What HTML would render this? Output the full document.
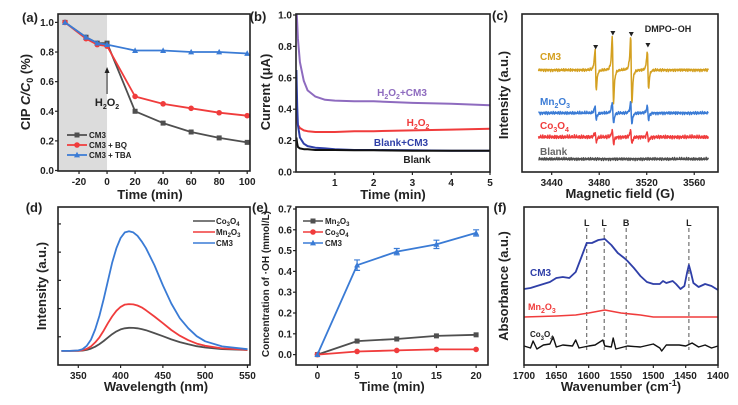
<!DOCTYPE html>
<html><head><meta charset="utf-8"><style>
body{margin:0;background:#fff}
svg{display:block;font-family:"Liberation Sans",sans-serif;font-weight:bold}
</style></head><body>
<svg id="fig" width="738" height="405" viewBox="0 0 738 405" xmlns="http://www.w3.org/2000/svg"></svg>
<script>
// ---- panel a data
const aTime=[-30,-15,-7,0,20,40,60,80,100];
const aCM3=[1.0,0.90,0.86,0.86,0.40,0.32,0.26,0.22,0.19];
const aBQ=[1.0,0.89,0.85,0.84,0.50,0.45,0.42,0.39,0.37];
const aTBA=[1.0,0.90,0.86,0.85,0.81,0.81,0.80,0.80,0.79];
const aXTicks=[-20,0,20,40,60,80,100];
const aYTicks=[0.0,0.2,0.4,0.6,0.8,1.0];
// ---- panel b data
const bTime=[0.01,0.03,0.05,0.1,0.2,0.3,0.5,0.75,1,1.5,2,3,4,5];
const bH2O2CM3=[1.05,0.95,0.85,0.70,0.58,0.52,0.48,0.46,0.455,0.45,0.45,0.44,0.435,0.425];
const bH2O2=[0.40,0.33,0.30,0.28,0.265,0.26,0.255,0.255,0.255,0.26,0.26,0.265,0.27,0.275];
const bBlankCM3=[0.65,0.42,0.30,0.22,0.18,0.165,0.155,0.15,0.145,0.14,0.14,0.138,0.135,0.135];
const bBlank=[0.22,0.18,0.16,0.15,0.145,0.145,0.14,0.14,0.14,0.138,0.138,0.135,0.135,0.135];
const bXTicks=[1,2,3,4,5];
const bYTicks=[0.0,0.2,0.4,0.6,0.8,1.0];
// ---- panel c data
const cPeakPos=[3477,3491.5,3507,3521];
const cAmpCM3=[20,34,34,19];
const cAmpMn=[7,11,11,7];
const cAmpCo=[5,7,7,5];
const cAmpBlank=[0,0,0,0];
const cOffsets=[102,59,35,13];
const cXTicks=[3440,3480,3520,3560];
// ---- panel d data
const dWave=[330,340,350,355,360,365,370,375,380,385,390,395,400,405,410,415,420,425,430,440,450,460,470,480,490,500,520,550];
const dCM3=[0,0,0.004,0.015,0.045,0.1,0.19,0.31,0.46,0.62,0.78,0.91,1.0,1.05,1.06,1.05,1.02,0.97,0.91,0.76,0.58,0.42,0.29,0.2,0.13,0.085,0.04,0.015];
const dMn=[0,0,0.002,0.006,0.018,0.04,0.075,0.12,0.18,0.245,0.305,0.355,0.39,0.41,0.415,0.412,0.402,0.385,0.36,0.305,0.245,0.185,0.135,0.095,0.065,0.045,0.022,0.01];
const dCo=[0,0,0.001,0.003,0.009,0.02,0.037,0.06,0.088,0.118,0.148,0.173,0.19,0.2,0.205,0.204,0.2,0.193,0.183,0.158,0.13,0.102,0.078,0.058,0.042,0.03,0.016,0.008];
const dXTicks=[350,400,450,500,550];
// ---- panel e data
const eTime=[0,5,10,15,20];
const eMn=[0,0.065,0.075,0.09,0.095];
const eCo=[0,0.015,0.02,0.025,0.025];
const eCM3=[0,0.43,0.495,0.53,0.585];
const eErr=[0,0.025,0.015,0.02,0.015];
const eXTicks=[0,5,10,15,20];
const eYTicks=[0.0,0.1,0.2,0.3,0.4,0.5,0.6,0.7];
// ---- panel f data
const fWaveCM3=[1700,1690,1680,1670,1660,1650,1640,1630,1620,1610,1603,1595,1585,1575,1565,1555,1545,1540,1530,1520,1510,1500,1490,1485,1480,1470,1465,1458,1452,1448,1445,1442,1438,1430,1420,1410,1400];
const fCM3=[76,77,79,81,83,87,88,87,93,110,122,122,125,126,120,112,107,104,97,89,83,81,81,84,82,84,81,76,79,92,100,93,82,78,81,79,75];
const fWaveMn=[1700,1650,1620,1600,1575,1550,1520,1500,1450,1400];
const fMn=[48,49,50,52,55,52,50,48,48,48];
const fWaveCo=[1700,1690,1686,1680,1670,1660,1655,1650,1640,1625,1620,1615,1600,1590,1578,1575,1565,1562,1558,1540,1520,1500,1490,1487,1480,1460,1450,1440,1430,1420,1410,1400];
const fCo=[19,17,24,16,20,21,28,18,20,19,25,17,19,20,25,19,18,27,16,19,18,21,17,14,20,20,19,22,18,20,17,19];
const fMarks=[1603,1576,1542,1445];
const fMarkLabels=['L','L','B','L'];
const fXTicks=[1700,1650,1600,1550,1500,1450,1400];

const NS='http://www.w3.org/2000/svg';
const svg=document.getElementById('fig');
function mk(tag,attrs,name,parent){
  const el=document.createElementNS(NS,tag);
  for(const k in attrs) el.setAttribute(k,attrs[k]);
  
  
  (parent||svg).appendChild(el);
  return el;
}
function txt(s,x,y,size,name,opts){
  opts=opts||{};
  const t=mk('text',{x:x,y:y,'font-size':size,fill:opts.fill||'#222','text-anchor':opts.anchor||'middle'},name);
  if(opts.rot) t.setAttribute('transform','rotate(-90 '+x+' '+y+')');
  t.innerHTML=s;
  return t;
}
function scale(d0,d1,r0,r1){return v=>r0+(v-d0)/(d1-d0)*(r1-r0);}
function path(xs,ys,sx,sy,color,w,name){
  let d='';xs.forEach((x,i)=>{d+=(i?'L':'M')+sx(x).toFixed(1)+' '+sy(ys[i]).toFixed(1);});
  return mk('path',{d:d,fill:'none',stroke:color,'stroke-width':w,'stroke-linejoin':'round'},name);
}
function box(x0,y0,x1,y1,name){mk('rect',{x:x0,y:y0,width:x1-x0,height:y1-y0,fill:'none',stroke:'#222','stroke-width':1.6},name);}
function xticks(vals,sx,yb,name,fmt){vals.forEach(v=>{mk('line',{x1:sx(v),x2:sx(v),y1:yb,y2:yb+3,stroke:'#222','stroke-width':1.2},name+'-tick');txt(fmt?fmt(v):v,sx(v),yb+14,10,name+'-label');});}
function yticks(vals,sy,xl,name,fmt){vals.forEach(v=>{mk('line',{x1:xl-3,x2:xl,y1:sy(v),y2:sy(v),stroke:'#222','stroke-width':1.2},name+'-tick');txt(fmt?fmt(v):v,xl-4,sy(v)+3.5,10,name+'-label',{anchor:'end'});});}
function marker(x,y,shape,color,name){
  if(shape==='s') mk('rect',{x:x-2.5,y:y-2.5,width:5,height:5,fill:color},name);
  else if(shape==='c') mk('circle',{cx:x,cy:y,r:2.8,fill:color},name);
  else mk('path',{d:'M'+x+' '+(y-3.2)+'L'+(x+3)+' '+(y+2.4)+'L'+(x-3)+' '+(y+2.4)+'Z',fill:color},name);
}
const GRAY='#4f4f4f',RED='#f03c3c',BLUE='#3a7bd5',PURPLE='#8e6bbf',NAVY='#2f3fa8',GOLD='#d4a020';

// ================= (a)
(function(){
  const x0=58,x1=250,y0=14,y1=171;
  const sx=scale(-35,102,x0,x1),sy=scale(0,1.05,y1-0.5,y0+1);
  mk('rect',{x:x0,y:y0,width:sx(0)-x0,height:y1-y0,fill:'#dcdcdc'},'adsorption-region');
  [[aCM3,GRAY,'s','cm3'],[aBQ,RED,'c','cm3-bq'],[aTBA,BLUE,'t','cm3-tba']].forEach(s=>{
    path(aTime,s[0],sx,sy,s[1],1.8,'line-'+s[3]);
    aTime.forEach((t,i)=>marker(sx(t),sy(s[0][i]),s[2],s[1],'point-'+s[3]));
  });
  box(x0,y0,x1,y1,'plot-frame-a');
  xticks(aXTicks,sx,y1,'x-tick-a');
  yticks(aYTicks,sy,x0,'y-tick-a',v=>v.toFixed(1));
  mk('line',{x1:sx(0),x2:sx(0),y1:94,y2:70,stroke:'#222','stroke-width':1},'h2o2-arrow');
  mk('path',{d:'M'+(sx(0)-2.5)+' 73L'+sx(0)+' 67L'+(sx(0)+2.5)+' 73Z',fill:'#222'},'h2o2-arrowhead');
  txt('H<tspan font-size="7" dy="3">2</tspan><tspan dy="-3">O</tspan><tspan font-size="7" dy="3">2</tspan>',sx(0),106,11,'h2o2-label');
  const leg=[['CM3',GRAY,'s'],['CM3 + BQ',RED,'c'],['CM3 + TBA',BLUE,'t']];
  leg.forEach((l,i)=>{const y=135+i*10;mk('line',{x1:67,x2:87,y1:y,y2:y,stroke:l[1],'stroke-width':1.8},'legend-line');marker(77,y,l[2],l[1],'legend-marker');txt(l[0],89,y+3,8,'legend-entry',{anchor:'start'});});
  txt('(a)',30,22,13,'panel-label-a');
  txt('CIP <tspan font-style="italic">C/C</tspan><tspan font-size="9" dy="3">0</tspan><tspan dy="-3"> (%)</tspan>',30,92,13,'y-axis-title-a',{rot:1});
  txt('Time (min)',150,199,13,'x-axis-title-a');
})();

// ================= (b)
(function(){
  const x0=296,x1=490,y0=14,y1=172;
  const sx=scale(0,5,x0,x1),sy=scale(0,1.0,y1,y0+1);
  const clip=mk('clipPath',{id:'clipb'},'clip-b');
  mk('rect',{x:x0,y:y0,width:x1-x0,height:y1-y0},'clip-rect',clip);
  [[bH2O2CM3,PURPLE,'h2o2-cm3'],[bH2O2,RED,'h2o2'],[bBlankCM3,NAVY,'blank-cm3'],[bBlank,'#111','blank']].forEach(s=>{
    path(bTime,s[0],sx,sy,s[1],2,'curve-'+s[2]).setAttribute('clip-path','url(#clipb)');
  });
  box(x0,y0,x1,y1,'plot-frame-b');
  xticks(bXTicks,sx,y1,'x-tick-b');
  yticks(bYTicks,sy,x0,'y-tick-b',v=>v.toFixed(1));
  txt('H<tspan font-size="7" dy="3">2</tspan><tspan dy="-3">O</tspan><tspan font-size="7" dy="3">2</tspan><tspan dy="-3">+CM3</tspan>',402,96,10,'label-h2o2-cm3',{fill:PURPLE});
  txt('H<tspan font-size="7" dy="3">2</tspan><tspan dy="-3">O</tspan><tspan font-size="7" dy="3">2</tspan>',418,126,10,'label-h2o2',{fill:RED});
  txt('Blank+CM3',401,146,10,'label-blank-cm3',{fill:NAVY});
  txt('Blank',417,163,10,'label-blank',{fill:'#222'});
  txt('(b)',258,21,13,'panel-label-b');
  txt('Current (μA)',270,92,13,'y-axis-title-b',{rot:1});
  txt('Time (min)',393,199,13,'x-axis-title-b');
})();

// ================= (c)
(function(){
  const x0=522,x1=718,y0=14,y1=172;
  const sx=scale(3415,3580,x0,x1),sy=scale(0,158,y1,y0);
  const series=[[cAmpCM3,GOLD,'cm3',1.2],[cAmpMn,BLUE,'mn2o3',1.3],[cAmpCo,RED,'co3o4',1.6],[cAmpBlank,GRAY,'blank',1.2]];
  series.forEach((s,si)=>{
    const xs=[],ys=[];
    for(let g=3429;g<=3572;g+=0.35){
      let v=cOffsets[si];
      cPeakPos.forEach((p,k)=>{const u=(g-p)/0.9;v+= -s[0][k]/0.325*u/Math.pow(1+u*u,2);});
      v+=s[3]*(Math.sin(g*7.3+si)*0.6+Math.sin(g*3.1+si*2)*0.5+Math.sin(g*13.7)*0.3);
      xs.push(g);ys.push(v);
    }
    path(xs,ys,sx,sy,s[1],1.5,'spectrum-'+s[2]);
  });
  box(x0,y0,x1,y1,'plot-frame-c');
  xticks(cXTicks,sx,y1,'x-tick-c');
  const tipY=[47,33,34,45];
  cPeakPos.forEach((p,i)=>{const x=sx(p);mk('path',{d:'M'+(x-2.5)+' '+(tipY[i]-2)+'L'+(x+2.5)+' '+(tipY[i]-2)+'L'+x+' '+(tipY[i]+2.5)+'Z',fill:'#222'},'peak-marker');});
  txt('DMPO-·OH',668,32,9,'dmpo-oh-label');
  txt('CM3',540,60,10,'label-cm3',{fill:GOLD,anchor:'start'});
  txt('Mn<tspan font-size="7" dy="3">2</tspan><tspan dy="-3">O</tspan><tspan font-size="7" dy="3">3</tspan>',540,105,10,'label-mn2o3',{fill:BLUE,anchor:'start'});
  txt('Co<tspan font-size="7" dy="3">3</tspan><tspan dy="-3">O</tspan><tspan font-size="7" dy="3">4</tspan>',540,129,10,'label-co3o4',{fill:RED,anchor:'start'});
  txt('Blank',540,155,10,'label-blank',{fill:'#666',anchor:'start'});
  txt('(c)',500,20,13,'panel-label-c');
  txt('Intensity (a.u.)',508,95,13,'y-axis-title-c',{rot:1});
  txt('Magnetic field (G)',620,198,13,'x-axis-title-c');
})();

// ================= (d)
(function(){
  const x0=58,x1=250,y0=207,y1=365;
  const sx=scale(326,553,x0,x1),sy=scale(-0.125,1.275,y1,y0);
  [[dCo,GRAY,'co3o4'],[dMn,RED,'mn2o3'],[dCM3,BLUE,'cm3']].forEach(s=>path(dWave,s[0],sx,sy,s[1],1.8,'spectrum-'+s[2]));
  box(x0,y0,x1,y1,'plot-frame-d');
  xticks(dXTicks,sx,y1,'x-tick-d');
  [0.25,0.5,0.75,1.0,1.25].forEach(v=>mk('line',{x1:x0,x2:x0+3,y1:sy(v-0.125),y2:sy(v-0.125),stroke:'#222','stroke-width':1.2},'y-tick-d'));
  const leg=[['Co<tspan font-size="6" dy="2">3</tspan><tspan dy="-2">O</tspan><tspan font-size="6" dy="2">4</tspan>',GRAY],['Mn<tspan font-size="6" dy="2">2</tspan><tspan dy="-2">O</tspan><tspan font-size="6" dy="2">3</tspan>',RED],['CM3',BLUE]];
  leg.forEach((l,i)=>{const y=221+i*11;mk('line',{x1:193,x2:215,y1:y,y2:y,stroke:l[1],'stroke-width':1.6},'legend-line');txt(l[0],216,y+3,8,'legend-entry',{anchor:'start'});});
  txt('(d)',34,212,13,'panel-label-d');
  txt('Intensity (a.u.)',46,286,13,'y-axis-title-d',{rot:1});
  txt('Wavelength (nm)',156,391,13,'x-axis-title-d');
})();

// ================= (e)
(function(){
  const x0=296,x1=488,y0=207,y1=365;
  const sx=scale(-2.7,21.5,x0,x1),sy=scale(-0.05,0.7,y1,y0+2);
  [[eMn,GRAY,'s','mn2o3'],[eCo,RED,'c','co3o4'],[eCM3,BLUE,'t','cm3']].forEach(s=>{
    path(eTime,s[0],sx,sy,s[1],1.8,'line-'+s[3]);
    eTime.forEach((t,i)=>marker(sx(t),sy(s[0][i]),s[2],s[1],'point-'+s[3]));
  });
  eTime.forEach((t,i)=>{if(!eErr[i])return;const x=sx(t),a=sy(eCM3[i]+eErr[i]),b=sy(eCM3[i]-eErr[i]);
    mk('path',{d:'M'+x+' '+a+'V'+b+'M'+(x-3)+' '+a+'H'+(x+3)+'M'+(x-3)+' '+b+'H'+(x+3),stroke:BLUE,'stroke-width':1.2,fill:'none'},'error-bar-cm3');});
  box(x0,y0,x1,y1,'plot-frame-e');
  xticks(eXTicks,sx,y1,'x-tick-e');
  yticks(eYTicks,sy,x0,'y-tick-e',v=>v.toFixed(1));
  const leg=[['Mn<tspan font-size="6" dy="2">2</tspan><tspan dy="-2">O</tspan><tspan font-size="6" dy="2">3</tspan>',GRAY,'s'],['Co<tspan font-size="6" dy="2">3</tspan><tspan dy="-2">O</tspan><tspan font-size="6" dy="2">4</tspan>',RED,'c'],['CM3',BLUE,'t']];
  leg.forEach((l,i)=>{const y=221+i*11;mk('line',{x1:303,x2:323,y1:y,y2:y,stroke:l[1],'stroke-width':1.6},'legend-line');marker(313,y,l[2],l[1],'legend-marker');txt(l[0],325,y+3,8,'legend-entry',{anchor:'start'});});
  txt('(e)',260,212,13,'panel-label-e');
  txt('Concentration of ·OH (mmol/L)',269,284,10,'y-axis-title-e',{rot:1});
  txt('Time (min)',392,391,13,'x-axis-title-e');
})();

// ================= (f)
(function(){
  const x0=524,x1=718,y0=207,y1=365;
  const sx=scale(1700,1400,x0,x1),sy=scale(0,158,y1,y0);
  fMarks.forEach((m,i)=>{mk('line',{x1:sx(m),x2:sx(m),y1:228,y2:350,stroke:'#555','stroke-width':1,'stroke-dasharray':'4 3'},'reference-line');txt(fMarkLabels[i],sx(m),226,9,'band-label');});
  path(fWaveCM3,fCM3,sx,sy,NAVY,1.8,'spectrum-cm3');
  path(fWaveMn,fMn,sx,sy,RED,1.6,'spectrum-mn2o3');
  path(fWaveCo,fCo,sx,sy,'#111',1.4,'spectrum-co3o4');
  box(x0,y0,x1,y1,'plot-frame-f');
  xticks(fXTicks,sx,y1,'x-tick-f');
  txt('CM3',530,276,10,'label-cm3',{fill:NAVY,anchor:'start'});
  txt('Mn<tspan font-size="7" dy="3">2</tspan><tspan dy="-3">O</tspan><tspan font-size="7" dy="3">3</tspan>',528,310,9,'label-mn2o3',{fill:RED,anchor:'start'});
  txt('Co<tspan font-size="6" dy="3">3</tspan><tspan dy="-3">O</tspan><tspan font-size="6" dy="3">4</tspan>',530,337,8,'label-co3o4',{fill:'#222',anchor:'start'});
  txt('(f)',500,212,13,'panel-label-f');
  txt('Absorbance (a.u.)',508,286,13,'y-axis-title-f',{rot:1});
  txt('Wavenumber (cm<tspan font-size="9" dy="-5">-1</tspan><tspan dy="5">)</tspan>',621,391,13,'x-axis-title-f');
})();
</script>
</body></html>
